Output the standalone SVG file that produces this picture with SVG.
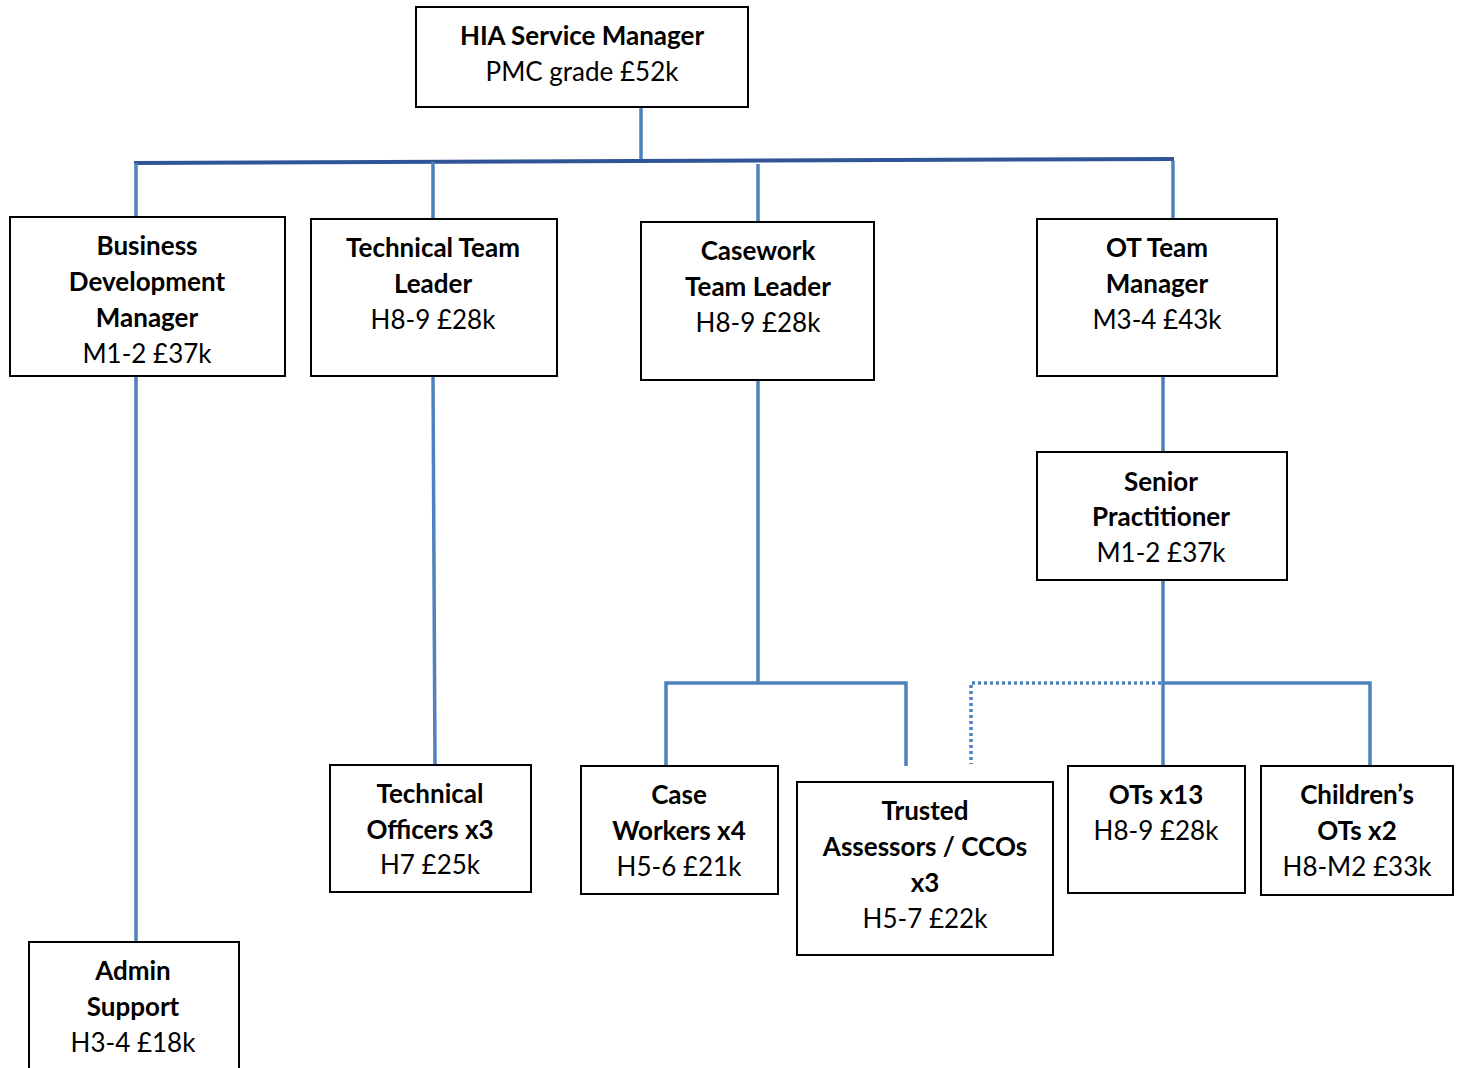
<svg xmlns="http://www.w3.org/2000/svg" width="1460" height="1068" viewBox="0 0 1460 1068">
<style>
.box{fill:#fff;stroke:#000;stroke-width:2}
text{font-family:Lato,"Open Sans","Liberation Sans",sans-serif;font-size:26px;fill:#000;text-anchor:middle}
.b{font-weight:bold}
.c{stroke:#4F81BD;stroke-width:3.5;fill:none}
.m{stroke:#2F5597;stroke-width:4;fill:none}
.d{stroke:#4F81BD;stroke-width:3.5;fill:none;stroke-dasharray:3 3}
</style>
<rect width="1460" height="1068" fill="#fff"/>
<g id="connectors">
<line class="c" x1="641" y1="107" x2="641" y2="161"/>
<line class="m" x1="134" y1="163" x2="1174" y2="159"/>
<line class="c" x1="136" y1="163" x2="136" y2="217"/>
<line class="c" x1="433" y1="162" x2="433" y2="219"/>
<line class="c" x1="758" y1="164" x2="758" y2="222"/>
<line class="c" x1="1173" y1="161" x2="1173" y2="219"/>
<line class="c" x1="136" y1="376" x2="136" y2="942"/>
<line class="c" x1="433" y1="376" x2="435" y2="765"/>
<line class="c" x1="758" y1="376" x2="758" y2="683"/>
<polyline class="c" points="666,766 666,683 906,683 906,766"/>
<line class="c" x1="1163" y1="376" x2="1163" y2="452"/>
<line class="c" x1="1163" y1="580" x2="1163" y2="766"/>
<polyline class="c" points="1163,683 1370,683 1370,766"/>
<polyline class="d" points="1161,683 971,683 971,764"/>
</g>
<g id="hia"><rect class="box" x="416" y="7" width="332" height="100"/><text class="b" x="582" y="45">HIA Service Manager</text><text x="582" y="81">PMC grade £52k</text></g>
<g id="bdm"><rect class="box" x="10" y="217" width="275" height="159"/><text class="b" x="147" y="255">Business</text><text class="b" x="147" y="291">Development</text><text class="b" x="147" y="327">Manager</text><text x="147" y="363">M1-2 £37k</text></g>
<g id="ttl"><rect class="box" x="311" y="219" width="246" height="157"/><text class="b" x="433" y="257">Technical Team</text><text class="b" x="433" y="293">Leader</text><text x="433" y="329">H8-9 £28k</text></g>
<g id="ctl"><rect class="box" x="641" y="222" width="233" height="158"/><text class="b" x="758" y="260">Casework</text><text class="b" x="758" y="296">Team Leader</text><text x="758" y="332">H8-9 £28k</text></g>
<g id="ottm"><rect class="box" x="1037" y="219" width="240" height="157"/><text class="b" x="1157" y="257">OT Team</text><text class="b" x="1157" y="293">Manager</text><text x="1157" y="329">M3-4 £43k</text></g>
<g id="senior"><rect class="box" x="1037" y="452" width="250" height="128"/><text class="b" x="1161" y="491">Senior</text><text class="b" x="1161" y="526">Practitioner</text><text x="1161" y="562">M1-2 £37k</text></g>
<g id="techoff"><rect class="box" x="330" y="765" width="201" height="127"/><text class="b" x="430" y="803">Technical</text><text class="b" x="430" y="839">Officers x3</text><text x="430" y="874">H7 £25k</text></g>
<g id="admin"><rect class="box" x="29" y="942" width="210" height="140"/><text class="b" x="133" y="980">Admin</text><text class="b" x="133" y="1016">Support</text><text x="133" y="1052">H3-4 £18k</text></g>
<g id="case"><rect class="box" x="581" y="766" width="197" height="128"/><text class="b" x="679" y="804">Case</text><text class="b" x="679" y="840">Workers x4</text><text x="679" y="876">H5-6 £21k</text></g>
<g id="trusted"><rect class="box" x="797" y="782" width="256" height="173"/><text class="b" x="925" y="820">Trusted</text><text class="b" x="925" y="856">Assessors / CCOs</text><text class="b" x="925" y="892">x3</text><text x="925" y="928">H5-7 £22k</text></g>
<g id="ots"><rect class="box" x="1068" y="766" width="177" height="127"/><text class="b" x="1156" y="804">OTs x13</text><text x="1156" y="840">H8-9 £28k</text></g>
<g id="children"><rect class="box" x="1261" y="766" width="192" height="129"/><text class="b" x="1357" y="804">Children’s</text><text class="b" x="1357" y="840">OTs x2</text><text x="1357" y="876">H8-M2 £33k</text></g>
</svg>
